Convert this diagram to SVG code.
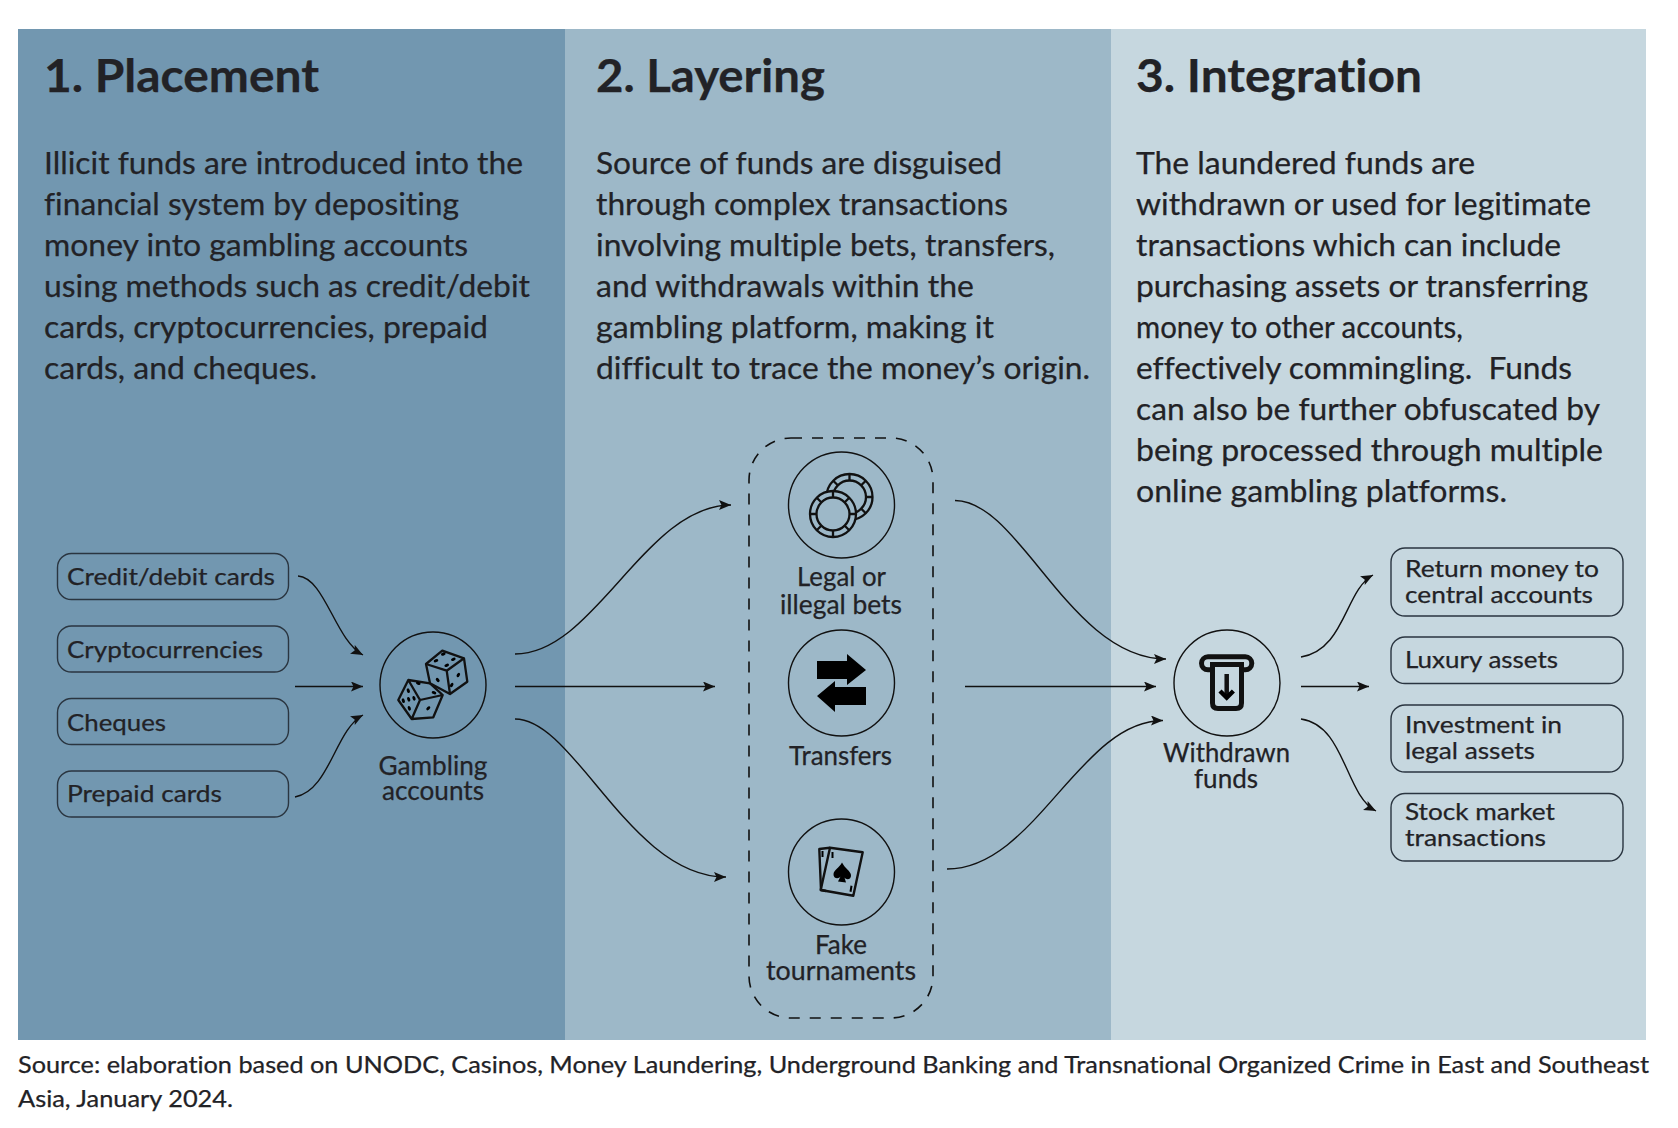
<svg xmlns="http://www.w3.org/2000/svg" width="1678" height="1128" viewBox="0 0 1678 1128">
<style>
text{font-family:Lato,"Liberation Sans",sans-serif;fill:#222226;font-variant-ligatures:none;stroke:#222226;stroke-width:.25}
.t{font-size:45px;font-weight:700}
.b{font-size:31.5px}
.s{font-size:24px}
.l{font-size:26.5px}
.m{text-anchor:middle}
.box{fill:none;stroke:#2a3540;stroke-width:1.4}
.c{fill:none;stroke:#111;stroke-width:1.4}
.a{fill:none;stroke:#111;stroke-width:1.4;marker-end:url(#h)}
.i{fill:none;stroke:#111;stroke-width:2.3;stroke-linejoin:round}
.f{fill:#000}
</style>
<defs><marker id="h" markerUnits="userSpaceOnUse" markerWidth="14" markerHeight="12" refX="12" refY="5" orient="auto"><path d="M0 0L12 5L0 10L2.500 5Z" fill="#111"/></marker></defs>
<rect x="0" y="0" width="1678" height="1128" fill="#fff"/>
<g id="panels">
<rect x="18" y="29" width="547" height="1011" fill="#7297b0"/>
<rect x="565" y="29" width="546" height="1011" fill="#9db8c8"/>
<rect x="1111" y="29" width="535" height="1011" fill="#c6d7df"/>
</g>
<g id="heading-placement">
<text class="t" x="44" y="92" textLength="275" lengthAdjust="spacingAndGlyphs">1. Placement</text>
<text class="b" x="44" y="173.500" textLength="479" lengthAdjust="spacingAndGlyphs">Illicit funds are introduced into the</text>
<text class="b" x="44" y="215" textLength="415" lengthAdjust="spacingAndGlyphs">financial system by depositing</text>
<text class="b" x="44" y="256" textLength="424" lengthAdjust="spacingAndGlyphs">money into gambling accounts</text>
<text class="b" x="44" y="297" textLength="486" lengthAdjust="spacingAndGlyphs">using methods such as credit/debit</text>
<text class="b" x="44" y="338" textLength="444" lengthAdjust="spacingAndGlyphs">cards, cryptocurrencies, prepaid</text>
<text class="b" x="44" y="379" textLength="273" lengthAdjust="spacingAndGlyphs">cards, and cheques.</text>
</g>
<g id="heading-layering">
<text class="t" x="596" y="92" textLength="229" lengthAdjust="spacingAndGlyphs">2. Layering</text>
<text class="b" x="596" y="173.500" textLength="406" lengthAdjust="spacingAndGlyphs">Source of funds are disguised</text>
<text class="b" x="596" y="215" textLength="412" lengthAdjust="spacingAndGlyphs">through complex transactions</text>
<text class="b" x="596" y="256" textLength="459" lengthAdjust="spacingAndGlyphs">involving multiple bets, transfers,</text>
<text class="b" x="596" y="297" textLength="378" lengthAdjust="spacingAndGlyphs">and withdrawals within the</text>
<text class="b" x="596" y="338" textLength="398" lengthAdjust="spacingAndGlyphs">gambling platform, making it</text>
<text class="b" x="596" y="379" textLength="494" lengthAdjust="spacingAndGlyphs">difficult to trace the money’s origin.</text>
</g>
<g id="heading-integration">
<text class="t" x="1136" y="92" textLength="286" lengthAdjust="spacingAndGlyphs">3. Integration</text>
<text class="b" x="1136" y="173.500" textLength="339" lengthAdjust="spacingAndGlyphs">The laundered funds are</text>
<text class="b" x="1136" y="215" textLength="455" lengthAdjust="spacingAndGlyphs">withdrawn or used for legitimate</text>
<text class="b" x="1136" y="256" textLength="425" lengthAdjust="spacingAndGlyphs">transactions which can include</text>
<text class="b" x="1136" y="297" textLength="452" lengthAdjust="spacingAndGlyphs">purchasing assets or transferring</text>
<text class="b" x="1136" y="338" textLength="327" lengthAdjust="spacingAndGlyphs">money to other accounts,</text>
<text class="b" x="1136" y="379" textLength="436" lengthAdjust="spacingAndGlyphs" xml:space="preserve">effectively commingling.  Funds</text>
<text class="b" x="1136" y="420" textLength="464" lengthAdjust="spacingAndGlyphs">can also be further obfuscated by</text>
<text class="b" x="1136" y="461" textLength="467" lengthAdjust="spacingAndGlyphs">being processed through multiple</text>
<text class="b" x="1136" y="502" textLength="371" lengthAdjust="spacingAndGlyphs">online gambling platforms.</text>
</g>
<g id="connectors">
<path class="a" d="M298 576C325 578 335 640 363 655"/>
<path class="a" d="M295 686.500H363"/>
<path class="a" d="M295 797C330 790 335 730 363 715"/>
<path class="a" d="M515 654C595 654 645 505 731 505"/>
<path class="a" d="M515 686.500H715"/>
<path class="a" d="M515 719C575 719 630 877 726 877"/>
<path class="a" d="M955 500.500C1020 500.500 1070 659 1166 659"/>
<path class="a" d="M965 686.500H1156"/>
<path class="a" d="M947 869C1035 869 1080 720.500 1163 720.500"/>
<path class="a" d="M1301 657C1345 650 1345 590 1373 575"/>
<path class="a" d="M1301 686.500H1369"/>
<path class="a" d="M1301 719C1345 725 1345 795 1376 811"/>
</g>
<g id="source-credit"><rect class="box" x="57.500" y="553.500" width="231" height="46" rx="14"/><text class="s" x="67" y="585" textLength="208" lengthAdjust="spacingAndGlyphs">Credit/debit cards</text></g>
<g id="source-crypto"><rect class="box" x="57.500" y="626" width="231" height="46" rx="14"/><text class="s" x="67" y="658" textLength="196" lengthAdjust="spacingAndGlyphs">Cryptocurrencies</text></g>
<g id="source-cheques"><rect class="box" x="57.500" y="698.500" width="231" height="46" rx="14"/><text class="s" x="67" y="731" textLength="99" lengthAdjust="spacingAndGlyphs">Cheques</text></g>
<g id="source-prepaid"><rect class="box" x="57.500" y="771" width="231" height="46" rx="14"/><text class="s" x="67" y="802" textLength="155" lengthAdjust="spacingAndGlyphs">Prepaid cards</text></g>
<g id="gambling-accounts">
<circle class="c" cx="433" cy="685" r="53"/>
<g class="i">
<path d="M442.300 650.700L464 658.300L467.300 681.700L450 694L430 683.300L426 664Z"/>
<path d="M426 664L446.700 670.700L464 658.300M446.700 670.700L450 694"/>
<path d="M430 683.300L408.300 680L398.300 700L411.700 719L433.300 717.300L442.700 695L420 700L408.300 680M420 700L411.700 719M430 683.300L442.700 695" />
</g>
<g class="f"><ellipse cx="443.300" cy="654" rx="2.400" ry="1.500" transform="rotate(-20 443.300 654)"/><ellipse cx="436" cy="660.700" rx="2.400" ry="1.500" transform="rotate(-20 436 660.700)"/><ellipse cx="446.700" cy="665.300" rx="2.400" ry="1.500" transform="rotate(-20 446.700 665.300)"/><ellipse cx="453.300" cy="659.300" rx="2.400" ry="1.500" transform="rotate(-20 453.300 659.300)"/><ellipse cx="437.700" cy="680" rx="2.400" ry="1.500" transform="rotate(50 437.700 680)"/><ellipse cx="458.300" cy="675" rx="2.400" ry="1.500" transform="rotate(-60 458.300 675)"/><ellipse cx="451.700" cy="685" rx="2.400" ry="1.500" transform="rotate(-60 451.700 685)"/><ellipse cx="418.300" cy="683.300" rx="2.400" ry="1.500" transform="rotate(20 418.300 683.300)"/><ellipse cx="434" cy="692.700" rx="2.400" ry="1.500" transform="rotate(20 434 692.700)"/><ellipse cx="428.300" cy="708.300" rx="2.400" ry="1.500" transform="rotate(-45 428.300 708.300)"/><ellipse cx="408.300" cy="690.700" rx="2.400" ry="1.500" transform="rotate(70 408.300 690.700)"/><ellipse cx="414" cy="698.300" rx="2.400" ry="1.500" transform="rotate(70 414 698.300)"/><ellipse cx="403.300" cy="700.700" rx="2.400" ry="1.500" transform="rotate(70 403.300 700.700)"/><ellipse cx="408.700" cy="699.300" rx="2.400" ry="1.500" transform="rotate(70 408.700 699.300)"/><ellipse cx="409.300" cy="708.300" rx="2.400" ry="1.500" transform="rotate(70 409.300 708.300)"/></g>
<text class="l m" x="433" y="775" textLength="109" lengthAdjust="spacingAndGlyphs">Gambling</text>
<text class="l m" x="433" y="800" textLength="102" lengthAdjust="spacingAndGlyphs">accounts</text>
</g>
<rect id="layering-group" x="749" y="438" width="184" height="580" rx="42" fill="none" stroke="#111" stroke-width="1.6" stroke-dasharray="11 10"/>
<g id="legal-bets">
<circle class="c" cx="841.500" cy="505" r="53"/>
<g class="i"><circle cx="849.500" cy="497" r="23"/><circle cx="849.500" cy="497" r="16.500"/><path d="M849.500 474V480.500M849.500 513.500V520M826.500 497H833M866 497H872.500M833.200 480.700L837.800 485.300M865.800 480.700L861.200 485.300M865.800 513.300L861.200 508.700"/>
<circle cx="833" cy="514" r="23" fill="#9db8c8"/><circle cx="833" cy="514" r="16.500"/><path d="M833 491V497.500M833 530.500V537M810 514H816.500M849.500 514H856M816.700 497.700L821.300 502.300M849.300 497.700L844.700 502.300M816.700 530.300L821.300 525.700M849.300 530.300L844.700 525.700"/></g>
<text class="l m" x="841.500" y="586" textLength="89" lengthAdjust="spacingAndGlyphs">Legal or</text>
<text class="l m" x="841" y="614" textLength="122" lengthAdjust="spacingAndGlyphs">illegal bets</text>
</g>
<g id="transfers">
<circle class="c" cx="841.500" cy="683" r="53"/>
<path class="f" d="M817 661H847V654L866 670L847 685V679H817Z"/>
<path class="f" d="M866 687H835V681L817 696L835 712V705H866Z"/>
<text class="l m" x="840.500" y="765" textLength="103" lengthAdjust="spacingAndGlyphs">Transfers</text>
</g>
<g id="fake-tournaments">
<circle class="c" cx="841.500" cy="872" r="53"/>
<path class="i" d="M830 847.700L819.300 849L821 890L826 891" style="stroke-width:2.400"/>
<path class="i" d="M830 847.700L862.700 852.300L853.300 895.700L820.700 890Z" style="stroke-width:2.400"/>
<path class="f" d="M842 862.500C839 868 834 870 833.500 874C833 878.500 838.500 879.500 840.500 876.500L838 881.500L846 882.500L844.500 877.500C846.500 880.500 851.500 879.500 851 875C850.500 871 845 868.500 842 862.500Z"/>
<path class="f" d="M821.500 851H823.500V857H821.500ZM831.500 852H833.500V858H831.500ZM850.500 885.500L852.500 886L851.500 892L849.500 891.500Z"/>
<text class="l m" x="841" y="954" textLength="52" lengthAdjust="spacingAndGlyphs">Fake</text>
<text class="l m" x="841" y="980" textLength="150" lengthAdjust="spacingAndGlyphs">tournaments</text>
</g>
<g id="withdrawn-funds">
<circle class="c" cx="1227" cy="683" r="53"/>
<rect x="1201.500" y="656.800" width="50.300" height="13" rx="6.500" fill="none" stroke="#111" stroke-width="5"/>
<path d="M1212.500 668V664.500H1241.500V668V703Q1241.500 708.500 1236 708.500H1218Q1212.500 708.500 1212.500 703Z" fill="#c6d7df" stroke="#111" stroke-width="5"/>
<path d="M1226.700 674V697" stroke="#111" stroke-width="4.500"/>
<path d="M1220 691L1226.700 697.500L1233.400 691" fill="none" stroke="#000" stroke-width="4.500"/>
<text class="l m" x="1226.500" y="762" textLength="127" lengthAdjust="spacingAndGlyphs">Withdrawn</text>
<text class="l m" x="1226" y="788" textLength="64" lengthAdjust="spacingAndGlyphs">funds</text>
</g>
<g id="out-return"><rect class="box" x="1391" y="548" width="232" height="68" rx="14"/><text class="s" x="1405" y="576.500" textLength="194" lengthAdjust="spacingAndGlyphs">Return money to</text><text class="s" x="1405" y="603" textLength="188" lengthAdjust="spacingAndGlyphs">central accounts</text></g>
<g id="out-luxury"><rect class="box" x="1391" y="637" width="232" height="46.500" rx="14"/><text class="s" x="1405" y="668" textLength="153" lengthAdjust="spacingAndGlyphs">Luxury assets</text></g>
<g id="out-investment"><rect class="box" x="1391" y="705" width="232" height="67" rx="14"/><text class="s" x="1405" y="732.500" textLength="157" lengthAdjust="spacingAndGlyphs">Investment in</text><text class="s" x="1405" y="759" textLength="130" lengthAdjust="spacingAndGlyphs">legal assets</text></g>
<g id="out-stock"><rect class="box" x="1391" y="793.500" width="232" height="67.500" rx="14"/><text class="s" x="1405" y="820" textLength="150" lengthAdjust="spacingAndGlyphs">Stock market</text><text class="s" x="1405" y="846" textLength="141" lengthAdjust="spacingAndGlyphs">transactions</text></g>
<g id="source-note">
<text x="18" y="1073" font-size="24" textLength="1631" lengthAdjust="spacingAndGlyphs">Source: elaboration based on UNODC, Casinos, Money Laundering, Underground Banking and Transnational Organized Crime in East and Southeast</text>
<text x="18" y="1107" font-size="24" textLength="215" lengthAdjust="spacingAndGlyphs">Asia, January 2024.</text>
</g>
</svg>
